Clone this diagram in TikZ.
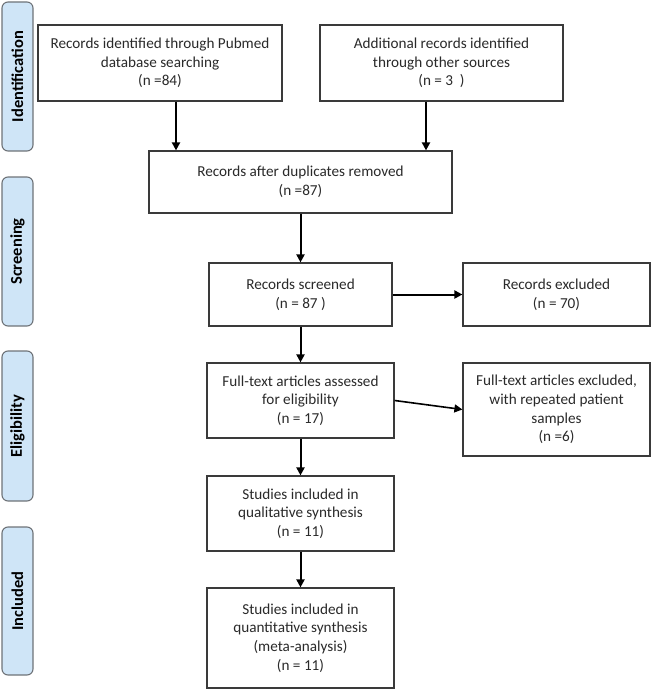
\documentclass[tikz,border=0pt]{standalone}
\usepackage{fontspec}
\setmainfont{Carlito}
\usetikzlibrary{arrows.meta}
\definecolor{phasefill}{HTML}{CFE5F7}
\definecolor{phaseline}{HTML}{6E7378}
\definecolor{boxline}{HTML}{3A3A3A}
\definecolor{txt}{HTML}{2A2A2A}
\tikzset{
  box/.style={draw=boxline, line width=1.2pt, fill=white, align=center, text=txt,
    font=\fontsize{15.2}{18.6}\selectfont, inner sep=2pt},
  phase/.style={draw=phaseline, line width=1.1pt, fill=phasefill, rounded corners=6pt,
    rotate=90, minimum height=31pt, inner sep=0pt, text=black,
    font=\fontsize{16.5}{18}\selectfont\bfseries},
  arr/.style={line width=2pt, -{Triangle[length=8pt,width=8pt]}}
}
\begin{document}
\begin{tikzpicture}[x=1pt,y=-1pt]
\useasboundingbox (0,0) rectangle (651,690);
% phase bars
\node[phase, minimum width=149pt] (idp) at (17.5,76.5) {Identification};
\node[phase, minimum width=149pt] (scp) at (17.5,251.5) {Screening};
\node[phase, minimum width=150pt] (elp) at (17.5,426) {Eligibility};
\node[phase, minimum width=148pt] (inp) at (17.5,601) {Included};
% boxes
\node[box, minimum width=244pt, minimum height=76pt] (pub) at (160,63)
  {Records identified through Pubmed\\database searching\\(n =84)};
\node[box, minimum width=243pt, minimum height=76pt] (add) at (441.5,63)
  {Additional records identified\\through other sources\\(n = 3\ \ )};
\node[box, minimum width=303pt, minimum height=62pt] (dup) at (300.5,182)
  {Records after duplicates removed\\(n =87)};
\node[box, minimum width=183pt, minimum height=63pt] (scr) at (300.5,294.5)
  {Records screened\\(n = 87 )};
\node[box, minimum width=187pt, minimum height=63pt] (exc) at (556.5,294.5)
  {Records excluded\\(n = 70)};
\node[box, minimum width=187pt, minimum height=75pt] (ft) at (300.5,400.5)
  {Full-text articles assessed\\for eligibility\\(n = 17)};
\node[box, minimum width=187pt, minimum height=93pt] (ftx) at (556.5,409.5)
  {Full-text articles excluded,\\with repeated patient\\samples\\(n =6)};
\node[box, minimum width=187pt, minimum height=75pt] (qual) at (300.5,513.5)
  {Studies included in\\qualitative synthesis\\(n = 11)};
\node[box, minimum width=187pt, minimum height=100pt] (quant) at (300.5,638)
  {Studies included in\\quantitative synthesis\\(meta-analysis)\\(n = 11)};
% arrows
\draw[arr] ([xshift=16pt]pub.south) -- ([xshift=16pt]pub.south |- dup.north);
\draw[arr] ([xshift=-15.5pt]add.south) -- ([xshift=-15.5pt]add.south |- dup.north);
\draw[arr] (dup.south) -- (scr.north);
\draw[arr] (scr.east) -- (exc.west);
\draw[arr] (scr.south) -- (ft.north);
\draw[arr, line width=1.6pt] (ft.east) -- (ftx.west);
\draw[arr] (ft.south) -- (qual.north);
\draw[arr] (qual.south) -- (quant.north);
\end{tikzpicture}
\end{document}
